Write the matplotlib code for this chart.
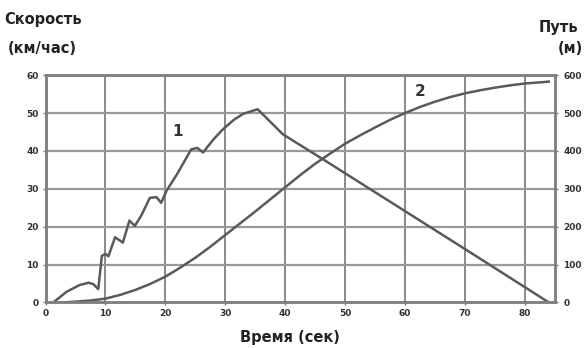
import matplotlib.pyplot as plt

# Кривая 1: скорость (км/час)
t_v = [1.3, 3.5, 5.7, 7.2, 8.0, 8.8, 9.4, 10.0, 10.5, 11.6, 12.9, 14.0, 14.9,
       16.0, 17.4, 18.5, 19.3, 20.2, 22.0, 24.3, 25.3, 26.3, 28.0, 29.6, 31.5,
       33.0, 35.4, 37.0, 39.6, 46.0, 60.0, 70.0, 83.3, 84.0]
v = [0, 2.8, 4.6, 5.2, 4.8, 3.5, 12.3, 12.8, 12.2, 17.2, 15.8, 21.6, 20.2,
     23.0, 27.6, 27.8, 26.3, 29.5, 34.0, 40.4, 40.8, 39.6, 43.0, 45.7, 48.3,
     49.8, 51.0, 48.5, 44.4, 38.1, 24.1, 14.1, 0.7, 0]

# Кривая 2: путь (м)
t_s = [3, 5, 7.5, 10, 12.5, 15, 17.5, 20, 22.5, 25, 27.5, 30, 32.5, 35, 37.5,
       40, 42.5, 45, 47.5, 50, 52.5, 55, 57.5, 60, 62.5, 65, 67.5, 70, 72.5,
       75, 77.5, 80, 82.5, 84]
s = [0, 2, 5, 10, 20, 33, 49, 68, 92, 118, 147, 178, 209, 240, 272,
     304, 336, 366, 393, 419, 441, 462, 482, 500, 516, 530, 542, 552, 560,
     567, 573, 578, 581, 583]

x_ticks = [0, 10, 20, 30, 40, 50, 60, 70, 80]
v_ticks = [0, 10, 20, 30, 40, 50, 60]
s_ticks = [0, 100, 200, 300, 400, 500, 600]

line_c = '#5a5a5a'
grid_c = '#9a9a9a'

fig = plt.figure(figsize=(5.84, 3.48), dpi=100)
ax = fig.add_axes([0.078, 0.131, 0.872, 0.653])
ax2 = ax.twinx()

ax.set_xlim(0, 85)
ax.set_ylim(0, 60)
ax2.set_ylim(0, 600)

for x in x_ticks[1:]:
    ax.axvline(x, color='#808080', lw=1.3, zorder=0)
for y in v_ticks[1:]:
    ax.axhline(y, color=grid_c, lw=1.6, zorder=0)

ax.plot(t_v, v, color=line_c, lw=1.8)
ax2.plot(t_s, s, color=line_c, lw=1.8)

ax.set_xticks(x_ticks)
ax.set_yticks(v_ticks)
ax2.set_yticks(s_ticks)
tick_kw = dict(labelsize=6.5, length=2, width=1, color='#777777',
               labelcolor='#333333')
ax.tick_params(axis='both', pad=3, **tick_kw)
ax2.tick_params(axis='y', pad=4, **tick_kw)
for lab in ax.get_xticklabels() + ax.get_yticklabels() + ax2.get_yticklabels():
    lab.set_fontweight('bold')

for a in (ax, ax2):
    for sp in a.spines.values():
        sp.set_color('#808080')
        sp.set_linewidth(1.8)

ax.text(22, 45, '1', fontsize=11, fontweight='bold', color='#333333',
        ha='center', va='center')
ax.text(62.6, 55.8, '2', fontsize=11, fontweight='bold', color='#333333',
        ha='center', va='center')

fig.text(0.008, 0.945, 'Скорость', fontsize=10.5, fontweight='bold',
         color='#222222', va='center')
fig.text(0.014, 0.862, '(км/час)', fontsize=10.5, fontweight='bold',
         color='#222222', va='center')
fig.text(0.922, 0.92, 'Путь', fontsize=10.5, fontweight='bold',
         color='#222222', va='center')
fig.text(0.955, 0.862, '(м)', fontsize=10.5, fontweight='bold',
         color='#222222', va='center')
fig.text(0.497, 0.03, 'Время (сек)', fontsize=10.5, fontweight='bold',
         color='#222222', ha='center', va='center')

fig.savefig('out.png', dpi=100)
